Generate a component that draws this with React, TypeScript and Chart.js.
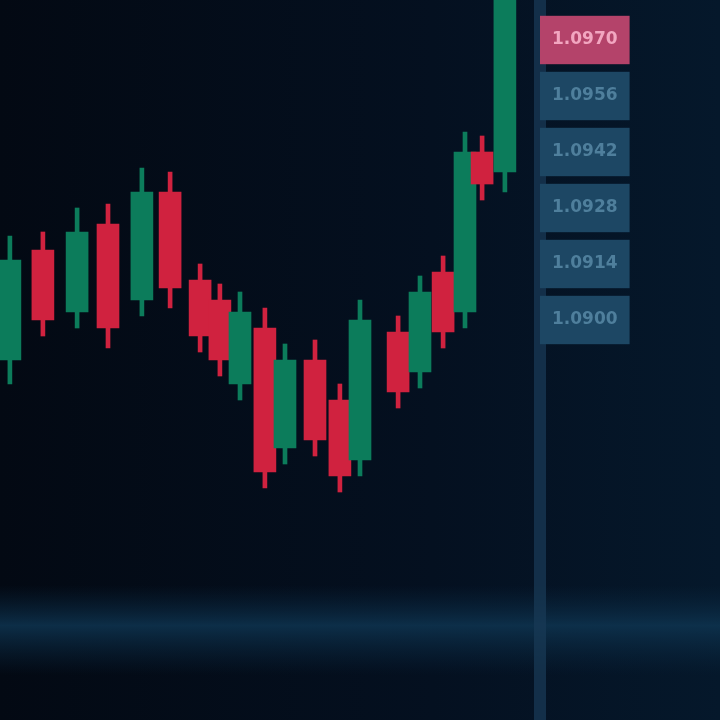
import { useEffect, useRef } from "react";
import { Chart, registerables } from "chart.js";

Chart.register(...registerables);

// time of each candle (minutes from session start)
const times = [3.3, 14.3, 25.7, 36, 47.3, 56.7, 66.7, 73.3, 80, 88.3, 95, 105, 113.3, 120, 132.7, 140, 147.7, 155, 160.7, 168.3];
const opens = [1.089, 1.09175, 1.0902, 1.0924, 1.0905, 1.0932, 1.091, 1.0905, 1.0884, 1.0898, 1.0868, 1.089, 1.088, 1.0865, 1.0897, 1.0887, 1.0912, 1.0902, 1.0942, 1.0937];
const closes = [1.0915, 1.09, 1.0922, 1.0898, 1.0932, 1.0908, 1.0896, 1.089, 1.0902, 1.0862, 1.089, 1.087, 1.0861, 1.09, 1.0882, 1.0907, 1.0897, 1.0942, 1.0934, 1.0995];
const highs = [1.0921, 1.0922, 1.0928, 1.0929, 1.0938, 1.0937, 1.0914, 1.0909, 1.0907, 1.0903, 1.0894, 1.0895, 1.0884, 1.0905, 1.0901, 1.0911, 1.0916, 1.0947, 1.0946, 1.1];
const lows = [1.0884, 1.0896, 1.0898, 1.0893, 1.0901, 1.0903, 1.0892, 1.0886, 1.088, 1.0858, 1.0864, 1.0866, 1.0857, 1.0861, 1.0878, 1.0883, 1.0893, 1.0898, 1.093, 1.0932];
const priceTicks = [1.09, 1.0914, 1.0928, 1.0942, 1.0956, 1.097];

const UP = "#0c7c5b";
const DOWN = "#d0223f";

export default function App() {
  const ref = useRef<HTMLCanvasElement>(null);

  useEffect(() => {
    if (!ref.current) return;
    const bg = {
      id: "bg",
      beforeDraw(chart: any) {
        const { ctx, width, height } = chart;
        ctx.save();
        const g = ctx.createLinearGradient(0, 0, width, 0);
        g.addColorStop(0, "#030913");
        g.addColorStop(0.6, "#041020");
        g.addColorStop(1, "#05182b");
        ctx.fillStyle = g;
        ctx.fillRect(0, 0, width, height);
        const b = ctx.createLinearGradient(0, 585, 0, 675);
        b.addColorStop(0, "rgba(10,40,65,0)");
        b.addColorStop(0.45, "rgba(14,52,80,0.85)");
        b.addColorStop(1, "rgba(10,40,65,0)");
        ctx.fillStyle = b;
        ctx.fillRect(0, 585, width, 90);
        ctx.restore();
      },
    };
    const colors = opens.map((o, i) => (closes[i] >= o ? UP : DOWN));
    const chart = new Chart(ref.current, {
      type: "bar",
      data: {
        datasets: [
          {
            label: "body",
            data: times.map((t, i) => ({ x: t, y: [opens[i], closes[i]] })) as any,
            backgroundColor: colors,
            barThickness: 22,
            grouped: false,
            order: 1,
          } as any,
          {
            label: "wick",
            data: times.map((t, i) => ({ x: t, y: [lows[i], highs[i]] })) as any,
            backgroundColor: colors,
            barThickness: 4,
            grouped: false,
            order: 2,
          } as any,
        ],
      },
      options: {
        responsive: false,
        animation: false,
        layout: { padding: 0 },
        plugins: { legend: { display: false }, tooltip: { enabled: false } },
        scales: {
          x: { type: "linear", min: 0, max: 180, display: false, offset: false },
          y: {
            position: "right",
            min: 1.08,
            max: 1.098,
            afterFit(s: any) {
              s.width = 180;
              s.paddingTop = 0;
              s.paddingBottom = 0;
            },
            afterBuildTicks(s: any) {
              s.ticks = priceTicks.map((v) => ({ value: v }));
            },
            grid: { display: false, drawTicks: false },
            border: { display: true, color: "rgba(24,58,86,0.75)", width: 12 },
            ticks: {
              padding: 12,
              showLabelBackdrop: true,
              backdropColor: (c: any) => (c.index === priceTicks.length - 1 ? "#b4436a" : "#1d4764"),
              backdropPadding: { x: 12, y: 14 },
              color: (c: any) => (c.index === priceTicks.length - 1 ? "#f2a6c0" : "#4f7f9c"),
              font: { family: "DejaVu Sans", size: 17, weight: "bold" },
              callback: (v: any) => Number(v).toFixed(4),
            },
          } as any,
        },
      },
      plugins: [bg],
    });
    return () => chart.destroy();
  }, []);

  return (
    <div style={{ position: "fixed", left: 0, top: 0, width: 720, height: 720 }}>
      <canvas ref={ref} width={720} height={720} />
    </div>
  );
}
